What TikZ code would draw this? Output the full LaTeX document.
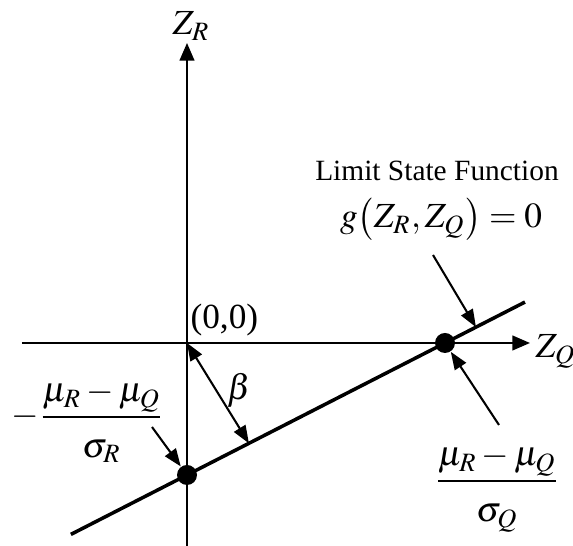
\documentclass[tikz,border=0pt]{standalone}
\usepackage{amsmath}
\usepackage{mathptmx}
\usepackage[no-math]{fontspec}
\setmainfont{Liberation Serif}
\usetikzlibrary{arrows.meta,calc}
\newcommand{\denstrut}{\rule{0pt}{12pt}}

\begin{document}
\begin{tikzpicture}[
    x=0.34pt, y=0.34pt,                  % one unit is one pixel of the sketch
    axis/.style={line width=0.7pt, -{Triangle[length=6pt,width=5pt]}},
    pointer/.style={line width=0.7pt, -{Triangle[length=6pt,width=4.5pt]}},
    gap/.style={line width=0.7pt, {Triangle[length=6pt,width=4.5pt]}-{Triangle[length=6pt,width=4.5pt]}},
    limitline/.style={line width=1.2pt}, % the limit state line is drawn heavier
    dot/.style={circle, fill, minimum size=6.8pt, inner sep=0pt},
    lbl/.style={inner sep=0pt, font=\large}
]
    \useasboundingbox (-187,-203) rectangle (386,343);

    % axes
    \coordinate (O) at (0,0);
    \coordinate (xl) at (-165,0);
    \coordinate (xr) at (343,0);
    \coordinate (yb) at (0,-203);
    \coordinate (yt) at (0,300);
    \draw[axis] (xl) -- (xr);
    \draw[axis] (yb) -- (yt);
    \node[lbl, anchor=base west] (zq) at (348,-15) {$Z_Q$};
    \node[lbl, anchor=base west] (zr) at (-15,308) {$Z_R$};
    \node[lbl, anchor=base west] (orig) at (3,14) {(0,0)};

    % limit state line and its two crossings
    \node[dot] (pr) at (0,-132) {};
    \node[dot] (pq) at (258,0) {};
    \draw[limitline] ($(pr)!-0.45!(pq)$) -- ($(pr)!1.31!(pq)$);

    % reliability index
    \coordinate (foot) at ($(pr)!0.24!(pq)$);
    \draw[gap] (O) -- (foot);
    \node[lbl] (beta) at (52,-47) {$\beta$};

    % labels with their pointers
    \node[lbl, anchor=base west] (fr) at (-176,-83)
        {$-\dfrac{\mu_R-\mu_Q}{\sigma_R\denstrut}$};
    \node[lbl, anchor=base] (fq) at (310,-147)
        {$\dfrac{\mu_R-\mu_Q}{\sigma_Q\denstrut}$};
    \node[anchor=base, inner sep=0pt] (lsf) at (250,162) {Limit State Function};
    \node[lbl, anchor=base] (gfun) at (254,115) {$g\bigl(Z_R,Z_Q\bigr)=0$};

    \coordinate (frtail) at (-35,-84);
    \coordinate (fqtail) at (312,-82);
    \coordinate (gtail) at (246,88);
    \draw[pointer] (frtail) -- (pr);
    \draw[pointer] (fqtail) -- (pq);
    \draw[pointer] (gtail) -- ($(pr)!1.12!(pq)$);
\end{tikzpicture}
\end{document}
